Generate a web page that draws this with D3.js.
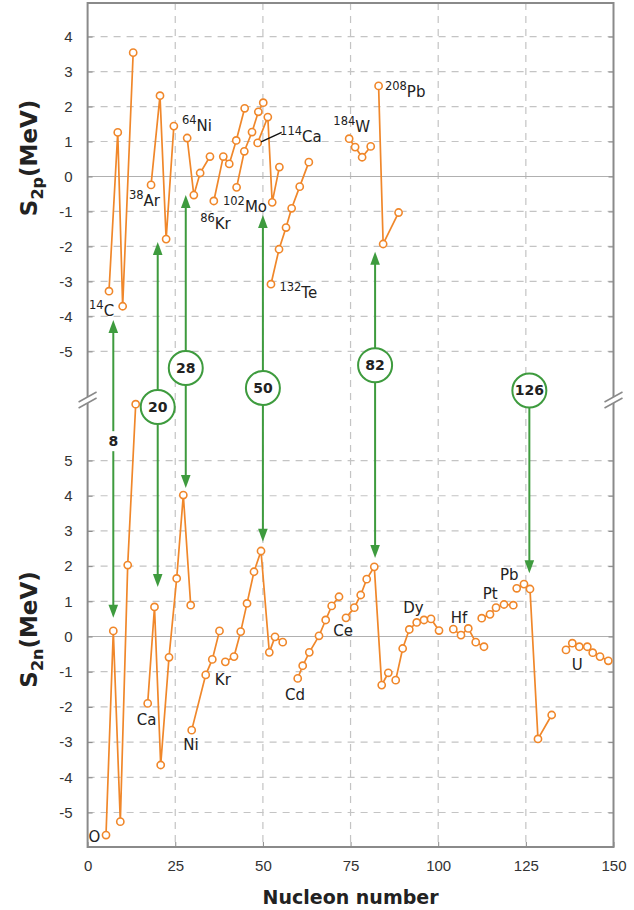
<!DOCTYPE html>
<html>
<head>
<meta charset="utf-8">
<script src="https://cdn.jsdelivr.net/npm/d3@7"></script>
<style>
  body { margin: 0; background: #fff; }
  svg { display: block; font-family: "DejaVu Sans", Verdana, sans-serif; }
  .axis text { fill: #333; font-size: 15px; }
  .axis line { stroke: #888; }
</style>
</head>
<body>
<div id="chart"></div>
<script>
// S2p (top) and S2n (bottom) vs nucleon number, with magic-number arrows

// ---- data: [nucleon number, MeV] per connected chain ----
const s2pChains = [
  [[6.1, -3.28], [8.6, 1.26], [10.0, -3.71], [13.0, 3.54]],
  [[18.1, -0.24], [20.65, 2.31], [22.4, -1.79], [24.6, 1.44]],
  [[28.4, 1.10], [30.3, -0.53], [32.1, 0.10], [34.9, 0.57]],
  [[36.0, -0.70], [38.7, 0.57], [40.4, 0.36], [42.4, 1.03], [44.8, 1.95]],
  [[42.5, -0.31], [44.7, 0.72], [46.9, 1.27], [48.7, 1.85], [50.1, 2.11]],
  [[48.5, 0.96], [51.4, 1.70], [52.65, -0.74], [54.7, 0.27]],
  [[52.3, -3.08], [54.6, -2.08], [56.6, -1.46], [58.2, -0.91], [60.5, -0.29], [63.1, 0.41]],
  [[74.6, 1.08], [76.3, 0.84], [78.3, 0.55], [80.75, 0.86]],
  [[83.0, 2.59], [84.3, -1.93], [88.7, -1.03]]
];

const s2nChains = [
  [[5.25, -5.64], [7.33, 0.16], [9.33, -5.26], [11.44, 2.03], [13.72, 6.60]],
  [[17.14, -1.90], [19.08, 0.84], [20.85, -3.65], [23.22, -0.59], [25.41, 1.65], [27.3, 4.02], [29.41, 0.89]],
  [[29.69, -2.66], [33.69, -1.09], [35.57, -0.65], [37.62, 0.16]],
  [[39.28, -0.72], [41.76, -0.57], [43.67, 0.14], [45.47, 0.94], [47.46, 1.84], [49.46, 2.43],
   [51.83, -0.45], [53.45, -0.01], [55.65, -0.16]],
  [[59.93, -1.19], [61.35, -0.83], [63.24, -0.45], [66.0, 0.02], [67.91, 0.47], [69.62, 0.87], [71.71, 1.13]],
  [[73.7, 0.53], [76.07, 0.82], [77.9, 1.18], [79.61, 1.63], [81.77, 1.98], [83.89, -1.38], [85.77, -1.03]],
  [[87.88, -1.24], [89.87, -0.34], [91.76, 0.20], [93.87, 0.40], [95.95, 0.47], [97.95, 0.50], [100.23, 0.17]],
  [[104.31, 0.21], [106.5, 0.04], [108.58, 0.23], [110.7, -0.16], [113.06, -0.29]],
  [[112.41, 0.52], [114.77, 0.63], [116.49, 0.82], [118.77, 0.91], [121.42, 0.89]],
  [[122.39, 1.37], [124.47, 1.49], [126.18, 1.35], [128.46, -2.91], [132.37, -2.23]],
  [[136.45, -0.38], [138.25, -0.19], [140.25, -0.29], [142.53, -0.29], [144.07, -0.46], [146.15, -0.57], [148.52, -0.69]]
];

// labels: [mass number, symbol, N, MeV] (anchor = start of text, baseline)
const s2pLabels = [
  ["14", "C", 0.4, -3.99], ["38", "Ar", 11.8, -0.84], ["64", "Ni", 26.9, 1.30],
  ["86", "Kr", 32.1, -1.50], ["102", "Mo", 38.6, -1.01], ["114", "Ca", 54.9, 0.99],
  ["132", "Te", 54.7, -3.47], ["184", "W", 70.1, 1.27], ["208", "Pb", 84.8, 2.27]
];
const caLeader = [[55.36, 1.26], [49.46, 0.99]];

const s2nLabels = [
  ["O", 0.26, -5.84], ["Ca", 14.0, -2.51], ["Ni", 27.3, -3.22], ["Kr", 36.3, -1.38],
  ["Cd", 56.3, -1.80], ["Ce", 70.1, 0.01], ["Dy", 90.05, 0.67], ["Hf", 103.6, 0.38],
  ["Pt", 112.7, 1.07], ["Pb", 117.6, 1.61], ["U", 138.1, -0.95]
];

// magic numbers
const magicText  = ["8", "20", "28", "50", "82", "126"];
const magicN     = [7.33, 20, 28, 50, 82, 126];
const magicTop   = [-4.10, -1.87, -0.53, -1.10, -2.15, null]; // arrow tip in S2p panel
const magicBot   = [0.53, 1.41, 4.22, 2.69, 2.23, 1.80];      // arrow tip in S2n panel
const magicBadge = [5.55, 6.52, 7.63, 7.06, 7.71, 6.99];      // badge centre (S2n units)

const xTicks = [0, 25, 50, 75, 100, 125, 150];
const topTicks = [4, 3, 2, 1, 0, -1, -2, -3, -4, -5];
const botTicks = [5, 4, 3, 2, 1, 0, -1, -2, -3, -4, -5];

// ---- layout ----
const W = 634, H = 910;
const orange = "#f0872a", green = "#3e9b3e", gridC = "#c4c4c4", frameC = "#8a8a8a";

const x = d3.scaleLinear().domain([0, 150]).range([87.6, 613.5]);
const yTop = d3.scaleLinear().domain([-6.39, 4.96]).range([400, 3]);
const yBot = d3.scaleLinear().domain([-5.98, 6.72]).range([847, 400]);
const x0 = x(0), x1 = x(150), yT = 3, yB = 847, yBreak = 400;

const svg = d3.select("#chart").append("svg").attr("width", W).attr("height", H);

// grid
const grid = svg.append("g");
grid.selectAll("line.v").data(xTicks.slice(1, -1)).join("line")
  .attr("x1", d => x(d)).attr("x2", d => x(d)).attr("y1", yT).attr("y2", yB)
  .attr("stroke", gridC).attr("stroke-width", 1.2).attr("stroke-dasharray", "7,6");
[[yTop, topTicks], [yBot, botTicks]].forEach(([y, ticks]) => {
  grid.selectAll(null).data(ticks).join("line")
    .attr("x1", x0).attr("x2", x1).attr("y1", d => y(d)).attr("y2", d => y(d))
    .attr("stroke", d => d === 0 ? "#b0b0b0" : gridC).attr("stroke-width", 1.2)
    .attr("stroke-dasharray", d => d === 0 ? null : "7,6");
});

// axes
const fmt = d => String(d);
svg.append("g").attr("class", "axis").attr("transform", `translate(${x0},0)`)
  .call(d3.axisLeft(yTop).tickValues(topTicks).tickFormat(fmt).tickSize(-5).tickPadding(15))
  .call(g => g.select(".domain").remove());
svg.append("g").attr("class", "axis").attr("transform", `translate(${x0},0)`)
  .call(d3.axisLeft(yBot).tickValues(botTicks).tickFormat(fmt).tickSize(-5).tickPadding(15))
  .call(g => g.select(".domain").remove());
svg.append("g").attr("class", "axis").attr("transform", `translate(${x1},0)`)
  .call(d3.axisRight(yTop).tickValues(topTicks).tickFormat("").tickSize(-5))
  .call(g => g.select(".domain").remove());
svg.append("g").attr("class", "axis").attr("transform", `translate(${x1},0)`)
  .call(d3.axisRight(yBot).tickValues(botTicks).tickFormat("").tickSize(-5))
  .call(g => g.select(".domain").remove());
svg.append("g").attr("class", "axis").attr("transform", `translate(0,${yB})`)
  .call(d3.axisBottom(x).tickValues(xTicks).tickFormat(fmt).tickSize(-5).tickPadding(13))
  .call(g => g.select(".domain").remove());

// frame
svg.append("rect").attr("x", x0).attr("y", yT).attr("width", x1 - x0).attr("height", yB - yT)
  .attr("fill", "none").attr("stroke", frameC).attr("stroke-width", 2);

// axis break marks
[x0, x1].forEach(bx => {
  const g = svg.append("g").attr("transform", `translate(${bx},${yBreak})`);
  g.append("polygon").attr("points", "-9,2 9,-8 9,-2 -9,8").attr("fill", "#fff");
  g.append("line").attr("x1", -9).attr("y1", 2).attr("x2", 9).attr("y2", -8).attr("stroke", frameC).attr("stroke-width", 1.5);
  g.append("line").attr("x1", -9).attr("y1", 8).attr("x2", 9).attr("y2", -2).attr("stroke", frameC).attr("stroke-width", 1.5);
});

// axis titles
const titles = [["p", yTop(0.53)], ["n", yBot(0.2)]];
titles.forEach(([sub, cy]) => {
  const t = svg.append("text").attr("transform", `translate(37,${cy}) rotate(-90)`)
    .attr("text-anchor", "middle").attr("font-weight", "bold").attr("font-size", 23).attr("fill", "#222");
  t.append("tspan").text("S");
  t.append("tspan").attr("font-size", 16).attr("dy", 6).text("2" + sub);
  t.append("tspan").attr("dy", -6).text("(MeV)");
});
svg.append("text").attr("x", (x0 + x1) / 2).attr("y", 904).attr("text-anchor", "middle")
  .attr("font-weight", "bold").attr("font-size", 19).attr("fill", "#222").text("Nucleon number");

// magic-number arrows (shafts and heads)
const arrows = svg.append("g");
function head(xp, yp, dir) {
  // dir = -1 points up, +1 points down
  arrows.append("path")
    .attr("d", `M${xp},${yp} L${xp - 4.8},${yp - dir * 13} L${xp + 4.8},${yp - dir * 13} Z`)
    .attr("fill", green);
}
magicN.forEach((n, i) => {
  const xp = x(n);
  const yStart = magicTop[i] == null ? yBot(magicBadge[i]) : yTop(magicTop[i]);
  const yEnd = yBot(magicBot[i]);
  arrows.append("line").attr("x1", xp).attr("x2", xp)
    .attr("y1", magicTop[i] == null ? yStart : yStart + 10).attr("y2", yEnd - 10)
    .attr("stroke", green).attr("stroke-width", 2);
  if (magicTop[i] != null) head(xp, yStart, -1);
  head(xp, yEnd, 1);
});

// data chains
const line = d3.line();
[[yTop, s2pChains], [yBot, s2nChains]].forEach(([y, chains]) => {
  const g = svg.append("g");
  chains.forEach(c => {
    g.append("path").attr("d", line(c.map(d => [x(d[0]), y(d[1])])))
      .attr("fill", "none").attr("stroke", orange).attr("stroke-width", 1.7);
    g.selectAll(null).data(c).join("circle")
      .attr("cx", d => x(d[0])).attr("cy", d => y(d[1])).attr("r", 3.6)
      .attr("fill", "#fff").attr("stroke", orange).attr("stroke-width", 1.6);
  });
});

// badges
magicText.forEach((t, i) => {
  const cx = x(magicN[i]), cy = yBot(magicBadge[i]);
  if (t === "8") {
    svg.append("rect").attr("x", cx - 6).attr("y", cy - 10).attr("width", 12).attr("height", 20).attr("fill", "#fff");
  } else {
    svg.append("circle").attr("cx", cx).attr("cy", cy).attr("r", 17)
      .attr("fill", "#fff").attr("stroke", green).attr("stroke-width", 2);
  }
  svg.append("text").attr("x", cx).attr("y", cy + 5).attr("text-anchor", "middle")
    .attr("font-weight", "bold").attr("font-size", 14).attr("fill", "#222").text(t);
});

// element labels
const lab = svg.append("g").attr("fill", "#222");
s2pLabels.forEach(([a, el, n, v]) => {
  const t = lab.append("text").attr("x", x(n)).attr("y", yTop(v)).attr("font-size", 15);
  t.append("tspan").attr("font-size", 11.5).attr("dy", -7).text(a);
  t.append("tspan").attr("dy", 7).text(el);
});
svg.append("path").attr("d", line(caLeader.map(d => [x(d[0]), yTop(d[1])])))
  .attr("stroke", "#111").attr("stroke-width", 1.5).attr("fill", "none");
s2nLabels.forEach(([el, n, v]) => {
  lab.append("text").attr("x", x(n)).attr("y", yBot(v)).attr("font-size", 15).text(el);
});
</script>
</body>
</html>
